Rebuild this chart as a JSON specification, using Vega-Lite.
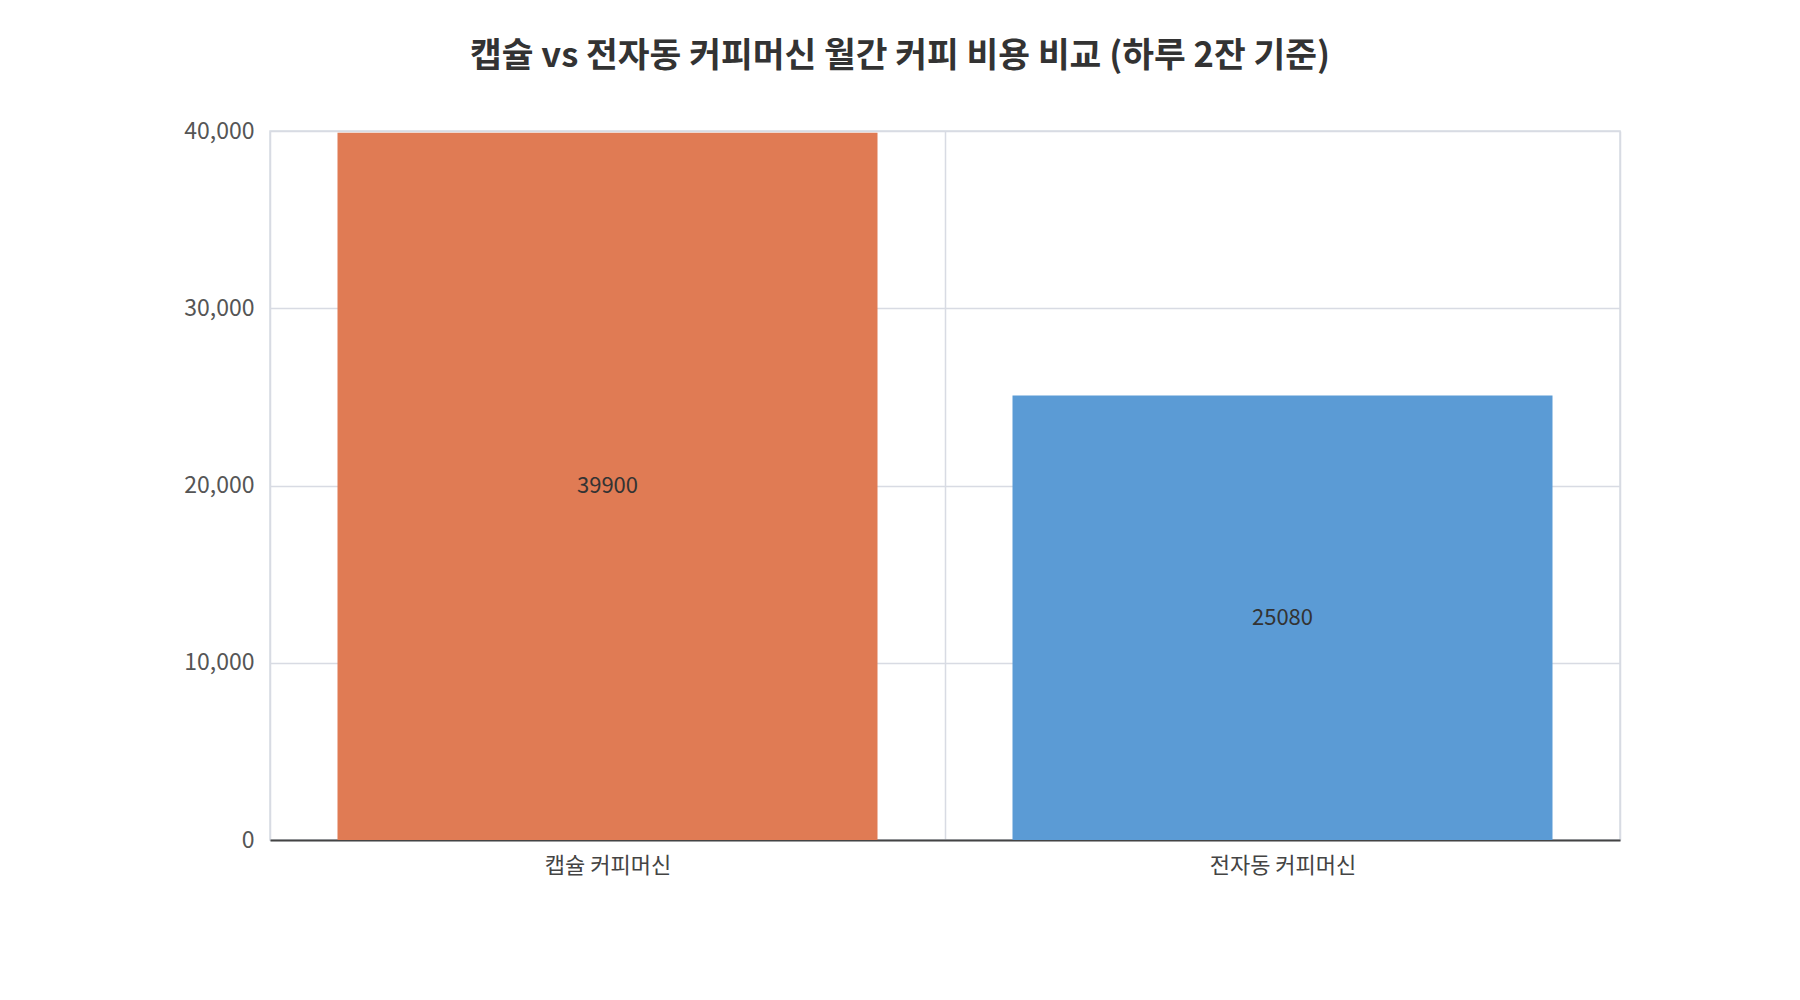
{
  "$schema": "https://vega.github.io/schema/vega-lite/v6.json",
  "autosize": "none",
  "width": 1350,
  "height": 709,
  "padding": {"left": 270, "top": 131, "right": 180, "bottom": 160},
  "background": "white",
  "config": {
    "font": "Noto Sans CJK KR",
    "view": {"stroke": "#d8dbe3", "strokeWidth": 1.5},
    "axis": {"gridColor": "#d8dbe3", "gridWidth": 1.5}
  },
  "title": {
    "text": "캡슐 vs 전자동 커피머신 월간 커피 비용 비교 (하루 2잔 기준)",
    "fontSize": 34.5,
    "fontWeight": "bold",
    "color": "#333333",
    "anchor": "middle",
    "dx": -45,
    "offset": 46
  },
  "data": {
    "values": [
      {"machine": "캡슐 커피머신", "cost": 39900},
      {"machine": "전자동 커피머신", "cost": 25080}
    ]
  },
  "encoding": {
    "x": {
      "field": "machine",
      "type": "nominal",
      "sort": null,
      "title": null,
      "scale": {"paddingInner": 0, "paddingOuter": 0},
      "axis": {
        "labelAngle": 0,
        "labelFontSize": 22,
        "labelColor": "#444444",
        "labelPadding": 15,
        "ticks": false,
        "grid": true,
        "tickBand": "extent",
        "domainColor": "#444444",
        "domainWidth": 2
      }
    }
  },
  "layer": [
    {
      "mark": {"type": "bar", "width": {"band": 0.8}},
      "encoding": {
        "y": {
          "field": "cost",
          "type": "quantitative",
          "title": null,
          "scale": {"domain": [0, 40000]},
          "axis": {
            "values": [0, 10000, 20000, 30000, 40000],
            "format": ",d",
            "labelFontSize": 23,
            "labelColor": "#555555",
            "labelPadding": 16,
            "ticks": false,
            "domain": false
          }
        },
        "color": {
          "field": "machine",
          "type": "nominal",
          "legend": null,
          "scale": {"domain": ["캡슐 커피머신", "전자동 커피머신"], "range": ["#e07b54", "#5b9bd5"]}
        }
      }
    },
    {
      "transform": [{"calculate": "datum.cost / 2", "as": "mid"}],
      "mark": {"type": "text", "fontSize": 22, "color": "#333333"},
      "encoding": {
        "y": {"field": "mid", "type": "quantitative"},
        "text": {"field": "cost", "type": "quantitative", "format": "d"}
      }
    }
  ]
}
